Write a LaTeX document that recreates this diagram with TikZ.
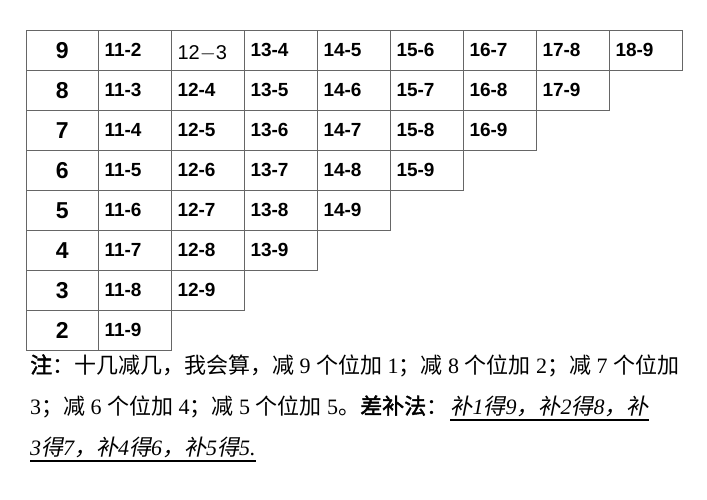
\documentclass[tikz,border=0pt]{standalone}
\usepackage{fontspec}
\setmainfont{Liberation Serif}
\setsansfont{Liberation Sans}
\newfontfamily\cjk{Noto Sans CJK SC}
\newfontfamily\cjkb{Noto Sans CJK SC}[FakeBold=2]
\newfontfamily\cjkit{Noto Sans CJK SC}[FakeSlant=0.2]
\newfontfamily\serit{Liberation Serif Italic}
\begin{document}
\begin{tikzpicture}[x=1pt,y=-1pt,
  cellbox/.style={draw=black!60,line width=0.6pt,minimum width=73pt,minimum height=40pt,inner sep=0pt,anchor=north west},
  numtxt/.style={font=\sffamily\bfseries\fontsize{19}{19}\selectfont},
  labtxt/.style={font=\sffamily\bfseries\fontsize{23}{23}\selectfont},
  note/.style={anchor=base west,inner sep=0pt,font=\fontsize{22}{22}\selectfont}]
\useasboundingbox[fill=white] (0,0) rectangle (707,500);
\foreach \r in {0,...,7}{
  \pgfmathtruncatemacro{\lab}{9-\r}
  \node[cellbox,minimum width=72pt,labtxt] (L\r) at (26,30+40*\r) {\lab};
  \pgfmathtruncatemacro{\last}{8-\r}
  \foreach \j in {1,...,\last}{
    \pgfmathtruncatemacro{\a}{10+\j}
    \pgfmathtruncatemacro{\b}{1+\r+\j}
    \node[cellbox] (C\r\j) at (98+73*\j-73,30+40*\r) {};
    \ifnum\r=0 \ifnum\j=2
      \node[anchor=west,font=\sffamily\fontsize{20}{20}\selectfont] at ([xshift=3pt,yshift=-3pt]C\r\j.west) {12$-$3};
    \else
      \node[anchor=west,numtxt] at ([xshift=3pt]C\r\j.west) {\a-\b};
    \fi\else
      \node[anchor=west,numtxt] at ([xshift=3pt]C\r\j.west) {\a-\b};
    \fi
  }
}
\node[note] (t1) at (30,373) {{\cjkb 注}{\cjk：十几减几，我会算，减} 9 {\cjk 个位加} 1{\cjk；减} 8 {\cjk 个位加} 2{\cjk；减} 7 {\cjk 个位加}};
\node[note] (t2) at (30,414) {3{\cjk；减} 6 {\cjk 个位加} 4{\cjk；减} 5 {\cjk 个位加} 5{\cjk 。}{\cjkb 差补法}{\cjk：}};
\node[note] (u1) at ([xshift=2pt]t2.base east) {{\cjkit 补}{\serit 1}{\cjkit 得}{\serit 9}{\cjkit ，补}{\serit 2}{\cjkit 得}{\serit 8}{\cjkit ，补}};
\node[note] (u2) at (30,455) {{\serit 3}{\cjkit 得}{\serit 7}{\cjkit ，补}{\serit 4}{\cjkit 得}{\serit 6}{\cjkit ，补}{\serit 5}{\cjkit 得}{\serit 5.}};
\draw[line width=1.6pt] ([yshift=-6pt]u1.base west) -- ([yshift=-6pt]u1.base east);
\draw[line width=1.6pt] ([yshift=-6pt]u2.base west) -- ([yshift=-6pt]u2.base east);
\end{tikzpicture}
\end{document}
